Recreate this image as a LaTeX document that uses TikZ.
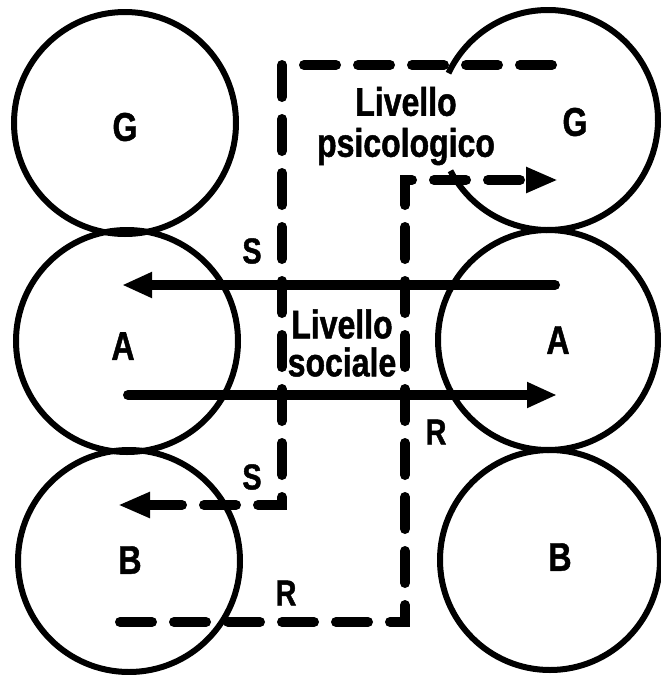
\documentclass[tikz,border=0pt]{standalone}
\usepackage{fontspec}
\setmainfont[FakeStretch=0.8,FakeBold=1.2]{Liberation Sans}
\usetikzlibrary{arrows.meta}
\begin{document}
\begin{tikzpicture}[x=1pt,y=-1pt,
  circ/.style={circle,draw,line width=6pt,minimum size=222pt,inner sep=0pt},
  lbl/.style={font={\bfseries\fontsize{40}{40}\selectfont},inner sep=0pt},
  sml/.style={font={\bfseries\fontsize{36}{36}\selectfont},inner sep=0pt},
  solidarrow/.style={line width=10pt,line cap=round,-{Triangle[length=30pt,width=24pt]}},
  dasharrow/.style={line width=10pt,line cap=round,dash pattern=on 32pt off 22pt,-{Triangle[length=32pt,width=24pt]}},
]
\useasboundingbox (0,0) rectangle (661,675);
% circles
\node[circ] (GL) at (125,123) {};
\node[circ] (AL) at (127,341) {};
\node[circ] (BL) at (129,561) {};
\node[circle,minimum size=220pt,inner sep=0pt] (GR) at (548,120) {};
\node[circ,minimum size=220pt] (AR) at (548,340) {};
\node[circ,minimum size=220pt] (BR) at (550,560) {};
\draw[line width=6pt] (GR.center) ++(152.5:110) arc[start angle=152.5,end angle=-154.8,radius=110];
% circle letters
\node[lbl] (tGL) at (125,127) {G};
\node[lbl] (tAL) at (123,346) {A};
\node[lbl] (tBL) at (130,560) {B};
\node[lbl] (tGR) at (575,122) {G};
\node[lbl] (tAR) at (558,340) {A};
\node[lbl] (tBR) at (560,557) {B};
% dashed paths
\coordinate (s0) at (552,65);
\coordinate (s1) at (282,65);
\coordinate (s2) at (282,505);
\coordinate (s3) at (118,505);
\draw[dasharrow] (s0) -- (s1) -- (s2) -- (s3);
\coordinate (r0) at (120,622);
\coordinate (r1) at (405,622);
\coordinate (r2) at (405,180);
\coordinate (r3) at (558,180);
\draw[dasharrow] (r0) -- (r1) -- (r2) -- (r3);
% solid arrows
\coordinate (a1) at (555,285);
\coordinate (a2) at (122,285);
\coordinate (a3) at (128,395);
\coordinate (a4) at (557,395);
\draw[solidarrow] (a1) -- (a2);
\draw[solidarrow] (a3) -- (a4);
% labels
\node[sml] (S1) at (252,251) {S};
\node[sml] (S2) at (252,477) {S};
\node[sml] (R1) at (286,593) {R};
\node[sml] (R2) at (436,432) {R};
\node[lbl,align=center,font={\bfseries\fontsize{40}{41}\selectfont}] (psi) at (406,126) {Livello\\psicologico};
\node[lbl,align=center,font={\bfseries\fontsize{40}{38}\selectfont}] (soc) at (342,343) {Livello\\sociale};
\end{tikzpicture}
\end{document}
